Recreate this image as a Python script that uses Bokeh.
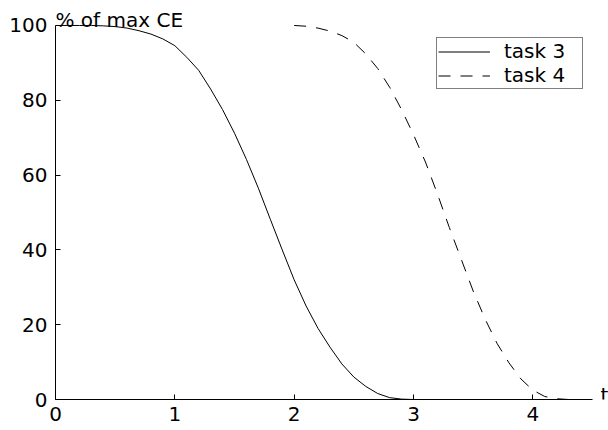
from bokeh.plotting import figure
from bokeh.models import Range1d, FixedTicker, Label, Legend, LegendItem
from bokeh.embed import file_html
from bokeh.resources import INLINE

# data
t3_x = [0.0, 0.1, 0.2, 0.3, 0.4, 0.5, 0.6, 0.7, 0.8, 0.9, 1.0, 1.1, 1.2, 1.3, 1.4,
        1.5, 1.6, 1.7, 1.8, 1.9, 2.0, 2.1, 2.2, 2.3, 2.4, 2.5, 2.6, 2.7, 2.8, 2.9, 3.0]
t3_y = [100, 100, 100, 100, 99.9, 99.7, 99.3, 98.6, 97.7, 96.4, 94.6, 91.5, 88.0, 83.0, 77.5,
        71.2, 64.2, 56.5, 48.2, 40.0, 32.0, 25.0, 19.0, 14.0, 9.5, 6.0, 3.5, 1.6, 0.5, 0.1, 0.0]

t4_x = [2.0, 2.1, 2.2, 2.3, 2.4, 2.5, 2.6, 2.7, 2.8, 2.9, 3.0, 3.1, 3.2, 3.3, 3.4,
        3.5, 3.6, 3.7, 3.8, 3.9, 4.0, 4.1, 4.2, 4.3, 4.4]
t4_y = [100, 99.8, 99.3, 98.5, 97.3, 95.5, 92.4, 88.5, 83.5, 77.5, 70.8, 63.5, 55.0, 46.0, 37.5,
        29.0, 21.5, 15.0, 9.8, 5.5, 2.5, 0.8, 0.2, 0.0, 0.0]

x_ticks = [0, 1, 2, 3, 4]
y_ticks = [0, 20, 40, 60, 80, 100]
x_axis_span = (0, 4.5)
y_axis_span = (0, 100)
series_names = ["task 3", "task 4"]

FONT = "DejaVu Sans"
FS = "20px"

# frame spans to the canvas edges so the free-standing labels are not clipped;
# the axis lines are bounded to the original axis spans
p = figure(width=608, height=430, output_backend="svg", toolbar_location=None,
           x_range=Range1d(0, 4.634), y_range=Range1d(0, 106.68),
           min_border_left=55, min_border_right=0, min_border_top=0, min_border_bottom=31)
p.outline_line_color = None
p.xgrid.visible = False
p.ygrid.visible = False
p.background_fill_color = "white"
p.border_fill_color = "white"

for ax in (p.xaxis[0], p.yaxis[0]):
    ax.axis_line_color = "black"
    ax.axis_line_width = 1
    ax.major_tick_in = 5
    ax.major_tick_out = 0
    ax.minor_tick_line_color = None
    ax.major_tick_line_color = "black"
    ax.major_label_text_font = FONT
    ax.major_label_text_font_size = FS
    ax.major_label_text_color = "black"

p.xaxis.ticker = FixedTicker(ticks=x_ticks)
p.yaxis.ticker = FixedTicker(ticks=y_ticks)
p.xaxis.bounds = x_axis_span
p.yaxis.bounds = y_axis_span
p.xaxis.major_label_standoff = 7
p.yaxis.major_label_standoff = 8

r3 = p.line(t3_x, t3_y, line_color="black", line_width=1)
r4 = p.line(t4_x, t4_y, line_color="black", line_width=1, line_dash="12 10")

legend = Legend(items=[LegendItem(label=series_names[0], renderers=[r3]),
                       LegendItem(label=series_names[1], renderers=[r4])],
                location=(381, 310), padding=1, spacing=0, margin=0,
                glyph_width=52, glyph_height=23, label_height=23, label_standoff=14,
                label_width=77,
                label_text_font=FONT, label_text_font_size=FS, label_text_color="black",
                border_line_color="black", border_line_width=1,
                background_fill_color="white", background_fill_alpha=1)
p.add_layout(legend)

p.add_layout(Label(x=0, y=100, text="% of max CE", x_offset=0, y_offset=5,
                   text_font=FONT, text_font_size=FS, text_baseline="alphabetic",
                   text_align="left", text_color="black"))
p.add_layout(Label(x=4.5, y=0, text="t", x_offset=8, y_offset=5,
                   text_font=FONT, text_font_size=FS, text_baseline="alphabetic",
                   text_align="left", text_color="black"))

open("out.html", "w").write(file_html(p, INLINE))
